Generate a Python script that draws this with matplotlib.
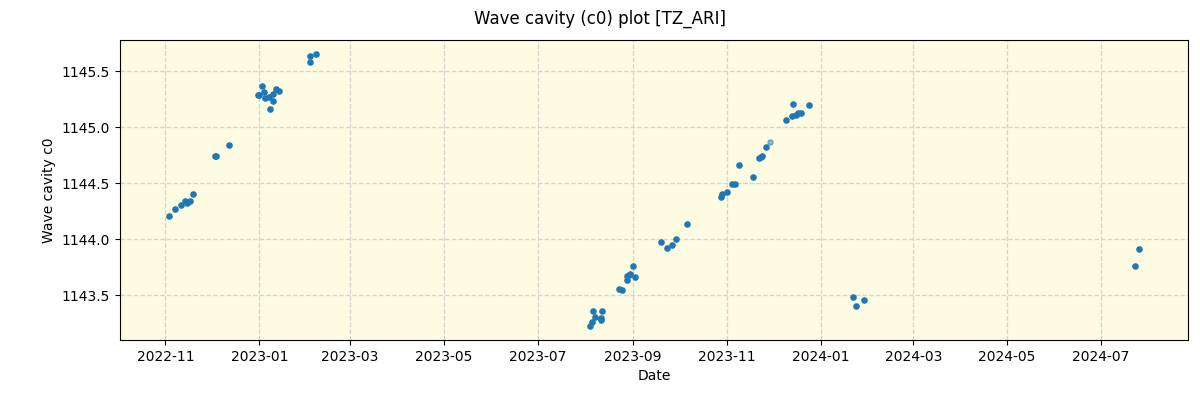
import numpy as np
import pandas as pd
import matplotlib
matplotlib.use('Agg')
from matplotlib import pyplot as plt
import matplotlib.dates as mdates

dates = ['2022-11-03', '2022-11-07', '2022-11-11', '2022-11-14', '2022-11-15', '2022-11-17',
         '2022-11-19', '2022-12-03', '2022-12-04', '2022-12-12',
         '2022-12-31', '2023-01-01', '2023-01-03', '2023-01-04', '2023-01-05', '2023-01-07',
         '2023-01-08', '2023-01-10', '2023-01-10', '2023-01-12', '2023-01-14',
         '2023-02-03', '2023-02-03', '2023-02-07',
         '2023-08-04', '2023-08-05', '2023-08-06', '2023-08-07', '2023-08-11', '2023-08-11',
         '2023-08-12', '2023-08-23', '2023-08-25', '2023-08-28', '2023-08-28', '2023-08-29',
         '2023-08-30', '2023-09-01', '2023-09-02',
         '2023-09-19', '2023-09-23', '2023-09-26', '2023-09-29', '2023-10-06',
         '2023-10-28', '2023-10-29', '2023-11-01', '2023-11-04', '2023-11-06', '2023-11-09',
         '2023-11-18', '2023-11-22', '2023-11-23', '2023-11-24', '2023-11-26',
         '2023-12-09', '2023-12-13', '2023-12-14', '2023-12-16', '2023-12-17', '2023-12-19',
         '2023-12-24',
         '2024-01-22', '2024-01-24', '2024-01-29',
         '2024-07-23', '2024-07-26']
c0 = [1144.206, 1144.269, 1144.305, 1144.34, 1144.32, 1144.34,
      1144.406, 1144.74, 1144.747, 1144.843,
      1145.29, 1145.29, 1145.37, 1145.32, 1145.264, 1145.273,
      1145.165, 1145.237, 1145.30, 1145.345, 1145.327,
      1145.587, 1145.64, 1145.659,
      1143.222, 1143.258, 1143.363, 1143.31, 1143.30, 1143.278,
      1143.363, 1143.56, 1143.551, 1143.64, 1143.67, 1143.68,
      1143.686, 1143.757, 1143.66,
      1143.973, 1143.924, 1143.951, 1144.0, 1144.134,
      1144.382, 1144.406, 1144.421, 1144.49, 1144.49, 1144.663,
      1144.556, 1144.722, 1144.737, 1144.747, 1144.825,
      1145.067, 1145.10, 1145.21, 1145.11, 1145.13, 1145.13,
      1145.20,
      1143.488, 1143.408, 1143.46,
      1143.757, 1143.910]
# one faint point
faint_date = ['2023-11-29']
faint_c0 = [1144.87]

x = pd.to_datetime(dates)
xf = pd.to_datetime(faint_date)

fig = plt.figure(figsize=(12, 4), dpi=100)
ax = fig.add_axes([0.1, 0.15, 0.89, 0.75])
ax.set_facecolor('#fdfbe2')
ax.scatter(x, c0, s=14, color='#1f77b4', zorder=3)
ax.scatter(xf, faint_c0, s=14, color='#1f77b4', alpha=0.5, zorder=3)
ax.grid(True, linestyle='--', color='lightgray', linewidth=0.9)
ax.set_axisbelow(True)

ax.xaxis.set_major_locator(mdates.MonthLocator(bymonth=[1, 3, 5, 7, 9, 11]))
ax.xaxis.set_major_formatter(mdates.DateFormatter('%Y-%m'))

ax.set_xlabel('Date')
ax.set_ylabel('Wave cavity c0')
fig.suptitle('Wave cavity (c0) plot [TZ_ARI]', y=0.975)

plt.savefig('out.png')
